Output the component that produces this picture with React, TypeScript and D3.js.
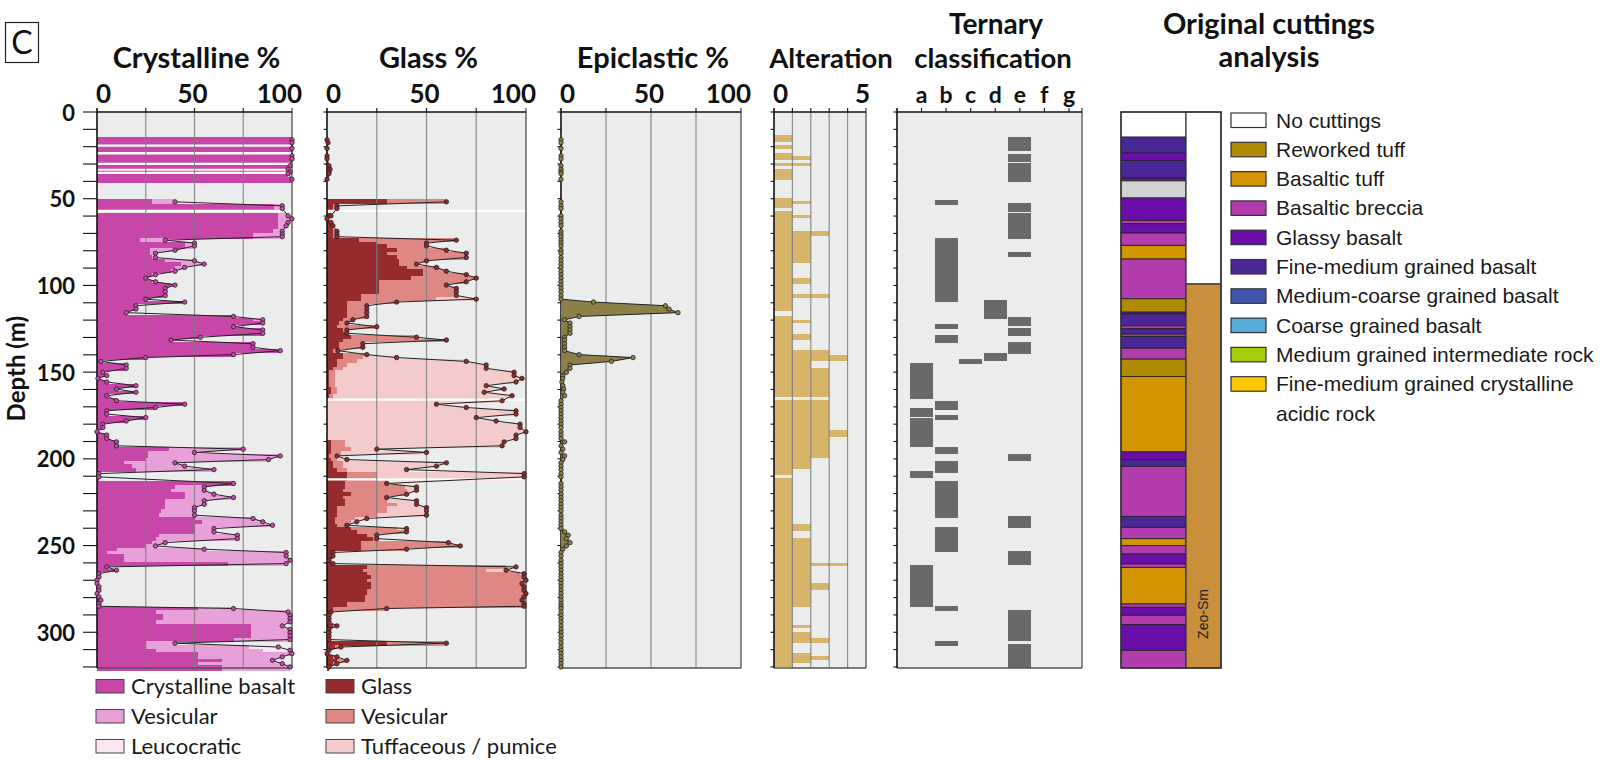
import * as d3 from 'd3'

// sample depths (m) shared by the crystalline, glass and epiclastic logs
const depths = [
  16.0, 17.7, 21.0, 25.3, 27.0, 31.0, 33.0, 34.5, 35.5, 38.8,
  51.8, 54.1, 55.7, 59.9, 61.6, 63.7, 65.6, 68.8, 70.4, 71.9,
  73.9, 75.6, 77.2, 79.7, 81.4, 83.9, 85.8, 87.7, 89.6, 91.8,
  93.8, 95.8, 97.9, 99.8, 101.7, 103.6, 105.8, 107.9, 109.6, 111.7,
  113.6, 115.7, 117.9, 119.8, 121.7, 123.8, 125.7, 127.6, 129.9, 131.5,
  133.6, 135.7, 137.6, 139.9, 141.6, 143.8, 145.9, 147.8, 150.1, 152.0,
  153.6, 155.7, 157.8, 159.7, 161.6, 163.6, 166.5, 168.5, 170.4, 172.3,
  174.2, 176.2, 178.2, 180.0, 181.9, 184.4, 186.3, 188.3, 190.2, 192.5,
  194.4, 196.3, 198.3, 200.4, 202.3, 204.2, 206.2, 208.5, 210.4, 214.2,
  216.2, 218.1, 220.4, 222.3, 224.2, 226.2, 228.1, 230.0, 232.5, 234.4,
  236.3, 238.3, 240.2, 242.1, 244.0, 246.0, 248.3, 250.2, 252.1, 254.0,
  256.0, 258.5, 260.4, 262.3, 264.2, 266.2, 268.1, 270.0, 271.9, 273.8,
  275.8, 277.7, 279.6, 281.5, 283.5, 285.0, 286.3, 288.3, 290.2, 292.1,
  294.0, 296.3, 298.3, 300.2, 302.1, 304.2, 306.3, 308.5, 310.4, 312.3,
  314.2, 316.2, 318.1, 320.0,
]

const crystBasalt = [
  100, 100, 100, 100, 100, 99, 98, 99, 98, 100,
  28, 91, 91, 93, 93, 93, 93, 90, 80, 80,
  22, 45, 45, 27, 27, 28, 35, 43, 40, 38,
  28, 24, 28, 38, 34, 34, 34, 25, 44, 20,
  20, 15, 70, 80, 85, 70, 85, 85, 53, 38,
  80, 80, 94, 70, 25, 2, 15, 15, 3, 5,
  0.5, 5, 20, 10, 20, 5, 10, 45, 30, 5,
  5, 25, 15, 3, 3, 0, 5, 5, 10, 10,
  37, 26, 26, 25, 14, 18, 20, 1, 1, 70,
  40, 38, 45, 45, 35, 35, 35, 33, 32, 50,
  54, 50, 50, 50, 32, 30, 28, 25, 10, 5,
  14, 14, 67, 5, 10, 1, 1, 0, 0, 1,
  1, 0, 1, 2, 1, 1, 52, 30, 34, 34,
  30, 79, 79, 79, 79, 70, 25, 25, 30, 52,
  52, 64, 52, 64,
]

const crystVes = [
  0, 0, 0, 0, 0, 0, 0, 0, 0, 0,
  12, 4, 4, 5, 7, 5, 4, 5, 15, 15,
  13, 5, 5, 13, 3, 2, 15, 12, 5, 2,
  2, 1, 2, 2, 1, 1, 1, 0, 1, 0,
  0, 0, 0, 5, 0, 0, 0, 0, 0, 0,
  0, 0, 0, 0, 0, 0, 0, 0, 0, 0,
  0, 0, 0, 0, 0, 0, 0, 0, 0, 0,
  0, 0, 0, 0, 0, 0, 0, 0, 0, 0,
  38, 24, 68, 63, 26, 27, 40, 0, 0, 0,
  15, 17, 15, 25, 20, 20, 15, 17, 18, 30,
  31, 40, 10, 10, 40, 42, 7, 5, 45, 92,
  83, 85, 30, 0, 0, 0, 0, 0, 0, 0,
  0, 0, 0, 0, 0, 0, 18, 68, 65, 65,
  69, 16, 20, 20, 20, 29, 15, 53, 55, 48,
  43, 26, 43, 35,
]

// leucocratic crystalline clasts: [depth, %]
const crystLeuco: [number, number][] = [[308.5, 15], [310.4, 14]]

const glassDark = [
  0, 0.5, 0, 0, 0, 1, 1.5, 1, 1, 0,
  30, 3, 3, 2, 0, 2, 3, 3, 3, 3,
  16, 25, 30, 35, 30, 35, 36, 36, 40, 48,
  48, 42, 26, 26, 26, 26, 17, 17, 10, 10,
  10, 10, 10, 8, 6, 5, 8, 10, 12, 8,
  6, 6, 3, 8, 8, 5, 5, 3, 1, 1,
  1, 1, 1, 2, 2, 1, 0, 0, 0, 0,
  0, 0, 0, 0, 0, 0, 0, 0, 2, 2,
  2, 2, 1, 2, 3, 3, 5, 10, 10, 9,
  9, 8, 12, 8, 9, 9, 5, 5, 5, 4,
  4, 5, 12, 15, 20, 23, 17, 17, 17, 3,
  3, 1, 3, 20, 18, 20, 22, 20, 22, 22,
  20, 20, 19, 19, 10, 10, 3, 2, 1, 1,
  1, 3, 1, 1, 1, 1, 30, 4, 1, 0,
  3, 5, 3, 1,
]

const glassVes = [
  0, 0, 0, 0, 0, 0, 0, 0, 0, 0,
  30, 2, 2, 0, 0, 0, 0, 2, 2, 2,
  49, 25, 20, 25, 40, 35, 14, 9, 15, 12,
  22, 33, 44, 34, 39, 39, 48, 38, 25, 10,
  10, 10, 10, 5, 4, 20, 2, 0, 33, 52,
  12, 12, 2.5, 12, 10, 10, 5, 5, 3, 3,
  3, 3, 3, 3, 3, 2, 0, 0, 0, 0,
  0, 0, 0, 0, 0, 0, 0, 0, 7, 7,
  10, 5, 4, 3, 5, 5, 5, 15, 15, 21,
  30, 32, 28, 22, 21, 26, 25, 25, 20, 10,
  8, 5, 23, 25, 5, 2, 44, 50, 23, 0,
  0, 0, 0, 70, 62, 77, 77, 80, 76, 77,
  79, 80, 80, 79, 89, 89, 27, 0, 0, 0,
  0, 2, 0, 0, 0, 0, 30, 3, 0, 0,
  2, 5, 2, 0,
]

const glassTuff = [
  0, 0, 0, 0, 0, 0, 0, 0, 0, 0,
  0, 0, 0, 0, 0, 0, 0, 0, 0, 0,
  0, 0, 0, 0, 0, 0, 0, 0, 0, 0,
  0, 0, 0, 0, 0, 0, 0, 20, 0, 0,
  0, 0, 0, 0, 0, 0, 0, 0, 0, 0,
  0, 0, 0, 0, 17, 55, 70, 72, 90, 90,
  94, 91, 76, 84, 74, 90, 88, 55, 70, 95,
  95, 75, 85, 97, 97, 100, 95, 95, 80, 79,
  13, 43, 0, 5, 52, 47, 30, 74, 74, 0,
  6, 5, 0, 0, 15, 10, 20, 20, 25, 6,
  3, 0, 5, 0, 0, 0, 0, 0, 0, 0,
  0, 0, 0, 5, 10, 2, 0, 0, 0, 0,
  0, 0, 0, 0, 0, 0, 0, 0, 0, 0,
  0, 0, 0, 0, 0, 0, 0, 0, 0, 0,
  0, 0, 0, 0,
]

const epiclastic = [
  0, 0, 0, 0, 0, 0, 0, 0, 0, 0,
  0, 0, 0, 0, 0, 0, 0, 0, 0, 0,
  0, 0, 0, 0, 0, 0, 0, 0, 0, 0,
  0, 0, 0, 0, 0, 0, 0, 0, 18, 58,
  60, 65, 10, 2, 5, 5, 5, 5, 2, 2,
  2, 2, 2, 10, 40, 28, 5, 5, 3, 1,
  1, 0.5, 1, 1.5, 1, 2, 0, 0, 0, 0,
  0, 0, 0, 0, 0, 0, 0, 0, 2, 0,
  1, 0, 2, 1, 0, 0, 0, 0, 0, 0,
  0, 0, 0, 0, 0, 0, 0, 0, 0, 0,
  0, 0, 0, 2, 4, 3, 5, 3, 1, 0,
  0, 0, 0, 0, 0, 0, 0, 0, 0, 0,
  0, 0, 0, 0, 0, 0, 0, 0, 0, 0,
  0, 0, 0, 0, 0, 0, 0, 0, 0, 0,
  0, 0, 0, 0,
]

// white separators between sample bands
const crystBreaks = [19.4, 23.9, 29.9, 33.3, 35.1, 57.0]
const glassBreaks = [57.0, 165.8, 211.8]

// alteration intensity: [top, bottom, value]
const alteration: [number, number, number][] = [
  [13.2, 17.1, 1], [18.8, 21.4, 1], [23.5, 25.6, 1], [25.6, 27.4, 2], [29.3, 31.2, 2], [33.1, 39.1, 1],
  [49.6, 51.3, 1], [51.3, 53.0, 2], [53.0, 55.1, 1],
  [57.3, 59.4, 1], [59.4, 61.1, 2], [61.1, 68.8, 1], [68.8, 71.6, 3], [71.6, 87.2, 2], [87.2, 95.7, 1],
  [95.7, 99.4, 2], [99.4, 105.1, 1], [105.1, 107.3, 3], [107.3, 115.0, 1],
  [117.5, 119.7, 1], [119.7, 121.4, 2], [121.4, 127.8, 1], [127.8, 131.4, 2], [131.4, 137.4, 1],
  [137.4, 140.0, 3], [140.0, 143.8, 4], [143.8, 147.4, 2], [147.4, 164.1, 3],
  [165.8, 183.3, 3], [183.3, 187.6, 4], [187.6, 199.4, 3], [199.4, 205.6, 2], [205.6, 209.4, 1],
  [211.1, 237.8, 1], [237.8, 241.5, 2], [241.5, 245.7, 1], [245.7, 259.8, 2], [259.8, 261.8, 4],
  [261.8, 271.4, 2], [271.4, 275.6, 3], [275.6, 285.7, 2], [285.7, 295.9, 1], [295.9, 297.6, 2],
  [297.6, 299.8, 1], [299.8, 303.4, 2], [303.4, 306.0, 3], [306.0, 312.0, 1], [312.0, 313.7, 2],
  [313.7, 315.8, 3], [315.8, 318.0, 2], [318.0, 319.9, 1],
]

const ternaryCats = ['a', 'b', 'c', 'd', 'e', 'f', 'g']
const ternary: [string, number, number][] = [
  ['a', 144.9, 165.6], ['a', 170.9, 175.6], ['a', 176.7, 193.2], ['a', 206.8, 211.1], ['a', 261.1, 285.7],
  ['b', 50.9, 53.6], ['b', 72.6, 109.6], ['b', 122.4, 125.2], ['b', 128.8, 133.3], ['b', 166.9, 171.6],
  ['b', 175.0, 177.8], ['b', 193.0, 197.4], ['b', 201.0, 207.9], ['b', 212.6, 234.0], ['b', 239.1, 253.6],
  ['b', 284.8, 287.6], ['b', 304.9, 307.9],
  ['c', 142.5, 145.5],
  ['d', 108.5, 119.4], ['d', 138.7, 143.8],
  ['e', 14.3, 22.4], ['e', 24.1, 28.8], ['e', 29.5, 40.2], ['e', 52.6, 57.7], ['e', 58.3, 73.3],
  ['e', 80.8, 83.8], ['e', 118.4, 123.5], ['e', 124.8, 129.3], ['e', 132.9, 139.7], ['e', 197.0, 201.5],
  ['e', 232.7, 239.7], ['e', 253.0, 261.3], ['e', 287.0, 305.3], ['e', 306.6, 320.6],
]

const lithoKeys = ['nc', 'rt', 'bt', 'bb', 'gb', 'fm', 'mc', 'cg', 'mi', 'fa']
const lithoNames = [
  'No cuttings', 'Reworked tuff', 'Basaltic tuff', 'Basaltic breccia', 'Glassy basalt',
  'Fine-medium grained basalt', 'Medium-coarse grained basalt', 'Coarse grained basalt',
  'Medium grained intermediate rock', 'Fine-medium grained crystalline', 'acidic rock',
]
const lithoColors: Record<string, string> = {
  nc: '#FFFFFF', rt: '#B08A02', bt: '#D29400', bb: '#B33DAE', gb: '#6B0DA8',
  fm: '#4A2697', mc: '#3F55AE', cg: '#58ACDA', mi: '#A6CE0B', fa: '#FFC800', gray: '#D2D2D2',
}

// original cuttings log: [top, bottom, lithology]
const cuttings: [number, number, string][] = [
  [0, 14.5, 'nc'], [14.5, 23.7, 'fm'], [23.7, 27.9, 'gb'], [27.9, 38.1, 'fm'], [38.1, 39.7, 'gb'],
  [39.7, 49.6, 'gray'], [49.6, 62.5, 'gb'], [62.5, 64.4, 'bb'], [64.4, 69.8, 'gb'], [69.8, 76.9, 'bb'],
  [76.9, 84.8, 'bt'], [84.8, 107.7, 'bb'], [107.7, 115.4, 'rt'], [115.4, 116.5, 'gb'], [116.5, 123.3, 'fm'],
  [123.3, 125.0, 'bb'], [125.0, 128.1, 'fm'], [128.1, 129.4, 'bb'], [129.4, 136.2, 'fm'], [136.2, 142.5, 'bb'],
  [142.5, 152.5, 'rt'], [152.5, 196.0, 'bt'], [196.0, 200.5, 'gb'], [200.5, 204.3, 'fm'], [204.3, 233.2, 'bb'],
  [233.2, 239.5, 'fm'], [239.5, 246.0, 'bb'], [246.0, 250.1, 'bt'], [250.1, 254.9, 'bb'], [254.9, 260.6, 'gb'],
  [260.6, 262.6, 'bb'], [262.6, 283.7, 'bt'], [283.7, 285.6, 'bb'], [285.6, 290.2, 'gb'], [290.2, 295.6, 'bb'],
  [295.6, 310.4, 'gb'], [310.4, 320.6, 'bb'],
]
const zones: [number, number, string][] = [[0, 99.2, ''], [99.2, 320.6, 'Zeo-Sm']]

const crystLegend = ['Crystalline basalt', 'Vesicular', 'Leucocratic']
const crystColors = ['#C846A8', '#E7A0D8', '#FDE6F3']
const glassLegend = ['Glass', 'Vesicular', 'Tuffaceous / pumice']
const glassColors = ['#962B2E', '#DE8783', '#F4CBCB']

const MAXD = 320.6
const y = d3.scaleLinear().domain([0, MAXD]).range([112, 668])
const xCryst = d3.scaleLinear().domain([0, 100]).range([97, 292])
const xGlass = d3.scaleLinear().domain([0, 100]).range([327, 526])
const xEpi = d3.scaleLinear().domain([0, 100]).range([561, 741])
const xAlt = d3.scaleLinear().domain([0, 5]).range([774, 866])
const xTern = d3.scalePoint<string>().domain(ternaryCats).range([921.5, 1069])
const ternLeft = 897
const ternRight = 1082

const BG = '#EBEDEC'
const TF = 'Lato, "Open Sans", sans-serif'
const AF = '"Liberation Sans", Arial, sans-serif'

const ext = depths.map((d, i) => {
  const prev = i > 0 ? depths[i - 1] : -Infinity
  const next = i < depths.length - 1 ? depths[i + 1] : Infinity
  return [Math.max((prev + d) / 2, d - 1.5), Math.min((d + next) / 2, d + 1.9)]
})

// continuous runs of samples (no line across big gaps)
const runs: number[][] = []
depths.forEach((d, i) => {
  if (i === 0 || d - depths[i - 1] > 6) runs.push([i])
  else runs[runs.length - 1].push(i)
})

const leucoAt = (d: number) => crystLeuco.find(l => l[0] === d)?.[1] ?? 0

function Stack({ x, layers, colors }: { x: d3.ScaleLinear<number, number>, layers: number[][], colors: string[] }) {
  return (
    <g shapeRendering="crispEdges">
      {depths.map((d, i) => {
        let acc = 0
        return layers.map((arr, k) => {
          const v = arr[i]
          const x0 = x(acc)
          acc += v
          if (v <= 0) return null
          return (
            <rect key={`${i}-${k}`} x={x0} width={Math.max(0, x(Math.min(acc, 100)) - x0)}
              y={y(ext[i][0])} height={y(ext[i][1]) - y(ext[i][0]) + 0.5} fill={colors[k]} />
          )
        })
      })}
    </g>
  )
}

function Trace({ x, total, dot, fillArea }: { x: d3.ScaleLinear<number, number>, total: number[], dot: string, fillArea?: string }) {
  const line = d3.line<number>().x(i => x(Math.min(100, total[i]))).y(i => y(depths[i]))
  const area = d3.area<number>().x0(x(0)).x1(i => x(Math.min(100, total[i]))).y(i => y(depths[i]))
  return (
    <g>
      {fillArea && runs.map((r, k) => <path key={'a' + k} d={area(r) || ''} fill={fillArea} />)}
      {runs.map((r, k) => <path key={'l' + k} d={line(r) || ''} fill="none" stroke="#222" strokeWidth={1} />)}
      {depths.map((d, i) => (
        <circle key={i} cx={x(Math.min(100, total[i]))} cy={y(d)} r={2.2} fill={dot} stroke="#222" strokeWidth={0.8} />
      ))}
    </g>
  )
}

function Frame({ x0, x1, grid, bigTicks, children }: { x0: number, x1: number, grid: number[], bigTicks?: boolean, children?: any }) {
  const ticks = d3.range(0, 321, 10)
  return (
    <g>
      <rect x={x0} y={y(0)} width={x1 - x0} height={y(MAXD) - y(0)} fill={BG} />
      {children}
      {grid.map(g => (
        <line key={g} x1={g} x2={g} y1={y(0)} y2={y(MAXD)} stroke="#7d7d7d" strokeWidth={1.2} opacity={0.85} />
      ))}
      {grid.map(g => (
        <line key={'t' + g} x1={g} x2={g} y1={y(0) - 4} y2={y(0)} stroke="#222" strokeWidth={1.2} />
      ))}
      <line x1={x1} x2={x1} y1={y(0) - 4} y2={y(MAXD)} stroke="#6f6f6f" strokeWidth={1.6} />
      <line x1={x0} x2={x1} y1={y(MAXD)} y2={y(MAXD)} stroke="#555" strokeWidth={1.4} />
      <line x1={x0} x2={x1} y1={y(0)} y2={y(0)} stroke="#111" strokeWidth={1.6} />
      <line x1={x0} x2={x0} y1={y(0) - 4} y2={y(MAXD)} stroke="#111" strokeWidth={1.6} />
      {ticks.map(t => (
        <line key={'d' + t} x1={x0 - (bigTicks ? 14 : 3.5)} x2={x0} y1={y(t)} y2={y(t)} stroke="#111" strokeWidth={1.1} />
      ))}
    </g>
  )
}

function PctAxis({ x, title }: { x: d3.ScaleLinear<number, number>, title: string }) {
  const [a, b] = x.range()
  return (
    <g fontFamily={TF} fontWeight={700} fill="#111">
      <text x={(a + b) / 2 + 2} y={68} fontSize={29} textAnchor="middle">{title}</text>
      <text x={a - 1} y={103} fontSize={26} textAnchor="start">0</text>
      <text x={x(50) - 2} y={103} fontSize={26} textAnchor="middle">50</text>
      <text x={b + 10} y={103} fontSize={26} textAnchor="end">100</text>
    </g>
  )
}

export default function App() {
  const crystTotal = depths.map((d, i) => crystBasalt[i] + crystVes[i] + leucoAt(d))
  const glassTotal = depths.map((d, i) => glassDark[i] + glassVes[i] + glassTuff[i])
  const crystLeucoArr = depths.map(d => leucoAt(d))
  const bw = 23

  return (
    <svg width={1600} height={760} style={{ position: 'absolute', left: 0, top: 0, background: '#fff' }}>
      {/* panel label */}
      <rect x={5.5} y={22.5} width={33} height={40} fill="#fff" stroke="#222" strokeWidth={1.2} />
      <text x={22} y={54} fontFamily={TF} fontSize={32} textAnchor="middle" fill="#111">C</text>

      {/* depth axis */}
      <g fontFamily={TF} fontWeight={700} fill="#111" fontSize={22}>
        {d3.range(0, 301, 50).map(t => (
          <text key={t} x={75} y={y(t)} textAnchor="end" dominantBaseline="central">{t}</text>
        ))}
        <text transform={`translate(25,${y(148)}) rotate(-90)`} textAnchor="middle" fontSize={24}>Depth (m)</text>
      </g>

      {/* Crystalline */}
      <PctAxis x={xCryst} title="Crystalline %" />
      <Frame x0={97} x1={292} grid={[xCryst(25), xCryst(50), xCryst(75)]} bigTicks>
        <Stack x={xCryst} layers={[crystBasalt, crystVes, crystLeucoArr]} colors={crystColors} />
        {crystBreaks.map(b => <line key={b} x1={97} x2={292} y1={y(b)} y2={y(b)} stroke="#fff" strokeWidth={2.2} />)}
      </Frame>
      <Trace x={xCryst} total={crystTotal} dot={crystColors[0]} />

      {/* Glass */}
      <PctAxis x={xGlass} title="Glass %" />
      <Frame x0={327} x1={526} grid={[xGlass(25), xGlass(50), xGlass(75)]}>
        <Stack x={xGlass} layers={[glassDark, glassVes, glassTuff]} colors={glassColors} />
        {glassBreaks.map(b => <line key={b} x1={327} x2={526} y1={y(b)} y2={y(b)} stroke="#fff" strokeWidth={2.2} />)}
      </Frame>
      <Trace x={xGlass} total={glassTotal} dot={glassColors[0]} />

      {/* Epiclastic */}
      <PctAxis x={xEpi} title="Epiclastic %" />
      <Frame x0={561} x1={741} grid={[xEpi(25), xEpi(50), xEpi(75)]} />
      <Trace x={xEpi} total={epiclastic} dot="#8C7F48" fillArea="#8C7F48" />

      {/* Alteration */}
      <g fontFamily={TF} fontWeight={700} fill="#111">
        <text x={831} y={68} fontSize={27.5} textAnchor="middle">Alteration</text>
        <text x={773} y={103} fontSize={26} textAnchor="start">0</text>
        <text x={870} y={103} fontSize={26} textAnchor="end">5</text>
      </g>
      <Frame x0={774} x1={866} grid={[1, 2, 3, 4].map(v => xAlt(v))}>
        <g shapeRendering="crispEdges">
          {alteration.map(([t, b, v], i) => (
            <rect key={i} x={xAlt(0)} width={xAlt(v) - xAlt(0)} y={y(t)} height={y(b) - y(t)} fill="#D6B46A" />
          ))}
        </g>
      </Frame>

      {/* Ternary classification */}
      <g fontFamily={TF} fontWeight={700} fill="#111">
        <text x={996} y={34} fontSize={28} textAnchor="middle">Ternary</text>
        <text x={993} y={68} fontSize={27.5} textAnchor="middle">classification</text>
        {ternaryCats.map(c => (
          <text key={c} x={xTern(c)} y={103} fontSize={23} textAnchor="middle">{c}</text>
        ))}
      </g>
      <Frame x0={ternLeft} x1={ternRight} grid={[]}>
        <g shapeRendering="crispEdges">
          {ternary.map(([c, t, b], i) => (
            <rect key={i} x={(xTern(c) as number) - bw / 2} width={bw} y={y(t)} height={y(b) - y(t)} fill="#696969" />
          ))}
        </g>
      </Frame>
      {ternaryCats.map(c => (
        <line key={c} x1={xTern(c)} x2={xTern(c)} y1={y(0) - 4} y2={y(0)} stroke="#222" strokeWidth={1.2} />
      ))}

      {/* Original cuttings */}
      <g fontFamily={TF} fontWeight={700} fill="#111">
        <text x={1269} y={34} fontSize={29} textAnchor="middle">Original cuttings</text>
        <text x={1269} y={67} fontSize={29} textAnchor="middle">analysis</text>
      </g>
      {cuttings.map(([t, b, k], i) => (
        <rect key={i} x={1121} width={65} y={y(t)} height={y(b) - y(t)} fill={lithoColors[k]} stroke="#222" strokeWidth={0.9} />
      ))}
      {zones.map(([t, b, label], i) => (
        <g key={i}>
          <rect x={1186} width={35} y={y(t)} height={y(b) - y(t)} fill={label ? '#C98F3A' : '#fff'} stroke="#333" strokeWidth={1.2} />
          {label && (
            <text transform={`translate(${1208},${614}) rotate(-90)`} textAnchor="middle" fontFamily={AF} fontSize={14} fill="#222">{label}</text>
          )}
        </g>
      ))}
      <rect x={1121} y={y(0)} width={100} height={y(MAXD) - y(0)} fill="none" stroke="#333" strokeWidth={1.5} />

      {/* cuttings legend */}
      <g fontFamily={AF} fontSize={21} fill="#1a1a1a">
        {lithoKeys.map((k, i) => (
          <rect key={k} x={1231} y={113 + i * 29.3} width={35} height={14.5} fill={lithoColors[k]} stroke="#333" strokeWidth={1.2} />
        ))}
        {lithoNames.map((n, i) => (
          <text key={n} x={1276} y={127.5 + i * 29.3}>{n}</text>
        ))}
      </g>

      {/* component legends */}
      <g fontFamily={TF} fontSize={22} fill="#1a1a1a">
        {crystLegend.map((n, i) => (
          <g key={'c' + i}>
            <rect x={96} y={679.5 + i * 30} width={28} height={13.5} fill={crystColors[i]} stroke="#444" strokeWidth={1} />
            <text x={131} y={694 + i * 30}>{n}</text>
          </g>
        ))}
        {glassLegend.map((n, i) => (
          <g key={'g' + i}>
            <rect x={326} y={679.5 + i * 30} width={28} height={13.5} fill={glassColors[i]} stroke="#444" strokeWidth={1} />
            <text x={361} y={694 + i * 30}>{n}</text>
          </g>
        ))}
      </g>
    </svg>
  )
}
